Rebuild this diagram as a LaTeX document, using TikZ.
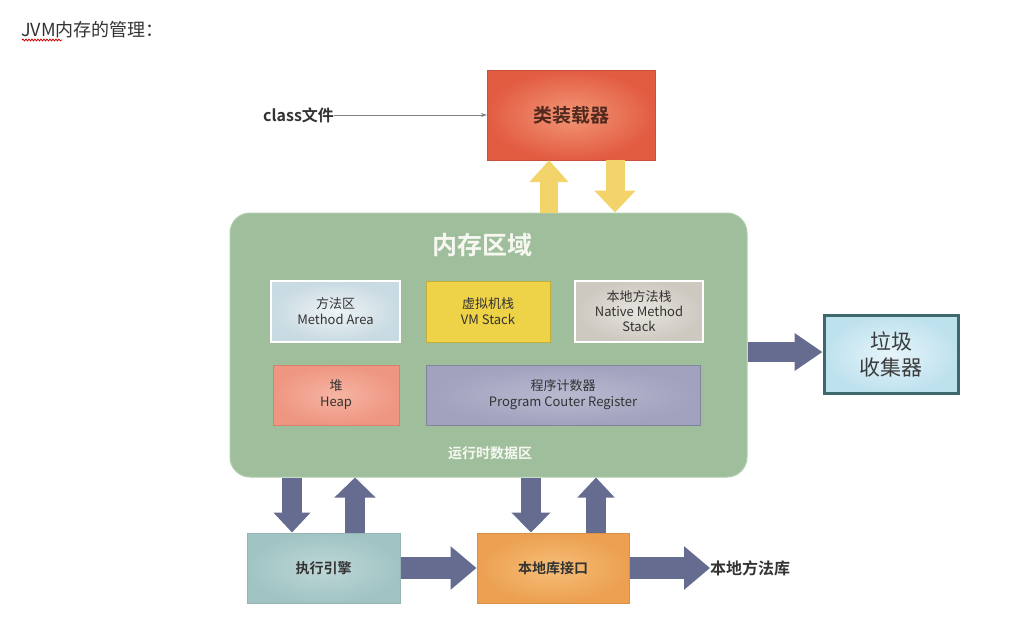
\documentclass[tikz,border=0pt]{standalone}
\usepackage{fontspec}
\setmainfont{Noto Sans CJK SC}[BoldFont={Noto Sans CJK SC Bold}]
\usetikzlibrary{arrows.meta,shadings,decorations.pathmorphing}
\definecolor{txt}{HTML}{333333}
\definecolor{memg}{HTML}{9FBF9C}
\definecolor{barrowc}{HTML}{656C90}
\definecolor{yarrow}{HTML}{F2D46A}
\tikzset{
  box/.style={rectangle, minimum width=#1, inner sep=0pt, align=center, text=txt, font=\fontsize{13}{16}\selectfont},
  bar/.style={line width=#1, line cap=butt, draw=barrowc},
  yar/.style={line width=#1, line cap=butt, draw=yarrow},
}
\begin{document}
\begin{tikzpicture}[x=1pt,y=-1pt]
\useasboundingbox[fill=white] (0,0) rectangle (1014,640);
% title
\node[anchor=west, text=txt, font=\fontsize{18}{20}\selectfont, inner sep=0pt] (title) at (21,30) {JVM内存的管理：};
\draw[red!80!black, line width=0.8pt, decorate, decoration={snake, amplitude=0.9pt, segment length=3pt}] (22,40) -- (62,40);
% class loader
\node[box=168pt, minimum height=90pt, inner color={rgb,255:red,243;green,150;blue,118}, outer color={rgb,255:red,226;green,92;blue,66}, draw={rgb,255:red,200;green,80;blue,60}, font=\bfseries\fontsize{19}{22}\selectfont, text={rgb,255:red,80;green,40;blue,30}] (loader) at (571,115) {类装载器};
\node[anchor=west, inner sep=0pt, font=\bfseries\fontsize{16}{18}\selectfont, text=txt] (cls) at (263,115) {class文件};
\draw[-{Stealth[length=6pt,width=4pt]}, gray, line width=0.6pt] (cls.east) -- (loader.west);
% memory area
\node[rectangle, rounded corners=20pt, minimum width=517pt, minimum height=264pt, fill=memg, draw={rgb,255:red,175;green,205;blue,170}, line width=1pt] (mem) at (488.5,345) {};
\node[font=\bfseries\fontsize{25}{28}\selectfont, text={rgb,255:red,245;green,247;blue,240}] (memt) at (482,245) {内存区域};
\node[font=\bfseries\fontsize{14}{16}\selectfont, text={rgb,255:red,245;green,247;blue,240}] (rt) at (490,453) {运行时数据区};
% inner boxes
\node[box=129pt, minimum height=61pt, inner color={rgb,255:red,238;green,243;blue,246}, outer color={rgb,255:red,200;green,218;blue,226}, draw=white, line width=1.5pt] (ma) at (335.5,311.5) {方法区\\Method Area};
\node[box=124pt, minimum height=61pt, fill={rgb,255:red,238;green,210;blue,72}, draw={rgb,255:red,195;green,172;blue,60}, line width=1pt] (vm) at (488,311.5) {虚拟机栈\\VM Stack};
\node[box=128pt, minimum height=61pt, inner color={rgb,255:red,232;green,229;blue,224}, outer color={rgb,255:red,205;green,200;blue,192}, draw=white, line width=1.5pt, font=\fontsize{13}{15}\selectfont] (nm) at (639,311.5) {本地方法栈\\Native Method\\Stack};
\node[box=126pt, minimum height=60pt, inner color={rgb,255:red,246;green,180;blue,162}, outer color={rgb,255:red,238;green,150;blue,130}, draw={rgb,255:red,215;green,128;blue,108}, line width=1pt] (heap) at (336,395) {堆\\Heap};
\node[box=274pt, minimum height=60pt, inner color={rgb,255:red,184;green,186;blue,208}, outer color={rgb,255:red,160;green,162;blue,190}, draw={rgb,255:red,130;green,132;blue,158}, line width=1pt] (pc) at (563,395) {程序计数器\\Program Couter Register};
% yellow arrows
\draw[yar=18pt, -{Triangle[length=22pt,width=38pt]}] (549,0 |- mem.north) -- (549,0 |- loader.south);
\draw[yar=19pt, -{Triangle[length=22pt,width=40pt]}] (615,0 |- loader.south) -- (615,0 |- mem.north);
% garbage collector
\node[box=134pt, minimum height=78pt, inner color={rgb,255:red,230;green,245;blue,250}, outer color={rgb,255:red,190;green,225;blue,238}, draw={rgb,255:red,62;green,105;blue,108}, line width=3pt, font=\fontsize{21}{26}\selectfont, text={rgb,255:red,60;green,60;blue,60}] (gc) at (891,354) {垃圾\\收集器};
\draw[bar=20pt, -{Triangle[length=28pt,width=36pt]}] (mem.east |- 0,352) -- (gc.west |- 0,352);
% bottom boxes
\node[box=153pt, minimum height=70pt, inner color={rgb,255:red,190;green,214;blue,214}, outer color={rgb,255:red,160;green,196;blue,196}, draw={rgb,255:red,150;green,180;blue,180}, line width=1pt, font=\bfseries\fontsize{14}{16}\selectfont] (exe) at (323.5,568) {执行引擎};
\node[box=152pt, minimum height=70pt, inner color={rgb,255:red,246;green,190;blue,120}, outer color={rgb,255:red,236;green,160;blue,80}, draw={rgb,255:red,215;green,145;blue,75}, line width=1pt, font=\bfseries\fontsize{14}{16}\selectfont] (nli) at (553,568) {本地库接口};
\node[anchor=west, inner sep=0pt, font=\bfseries\fontsize{16}{18}\selectfont, text=txt] (lib) at (710,568) {本地方法库};
% vertical block arrows
\draw[bar=20pt, -{Triangle[length=20pt,width=36pt]}] (292,0 |- mem.south) -- (292,0 |- exe.north);
\draw[bar=20pt, -{Triangle[length=20pt,width=40pt]}] (355,0 |- exe.north) -- (355,0 |- mem.south);
\draw[bar=20pt, -{Triangle[length=20pt,width=38pt]}] (531,0 |- mem.south) -- (531,0 |- nli.north);
\draw[bar=20pt, -{Triangle[length=20pt,width=36pt]}] (596,0 |- nli.north) -- (596,0 |- mem.south);
% horizontal block arrows
\draw[bar=22pt, -{Triangle[length=26pt,width=42pt]}] (exe.east) -- (nli.west);
\draw[bar=22pt, -{Triangle[length=26pt,width=42pt]}] (nli.east) -- (lib.west);
\end{tikzpicture}
\end{document}
